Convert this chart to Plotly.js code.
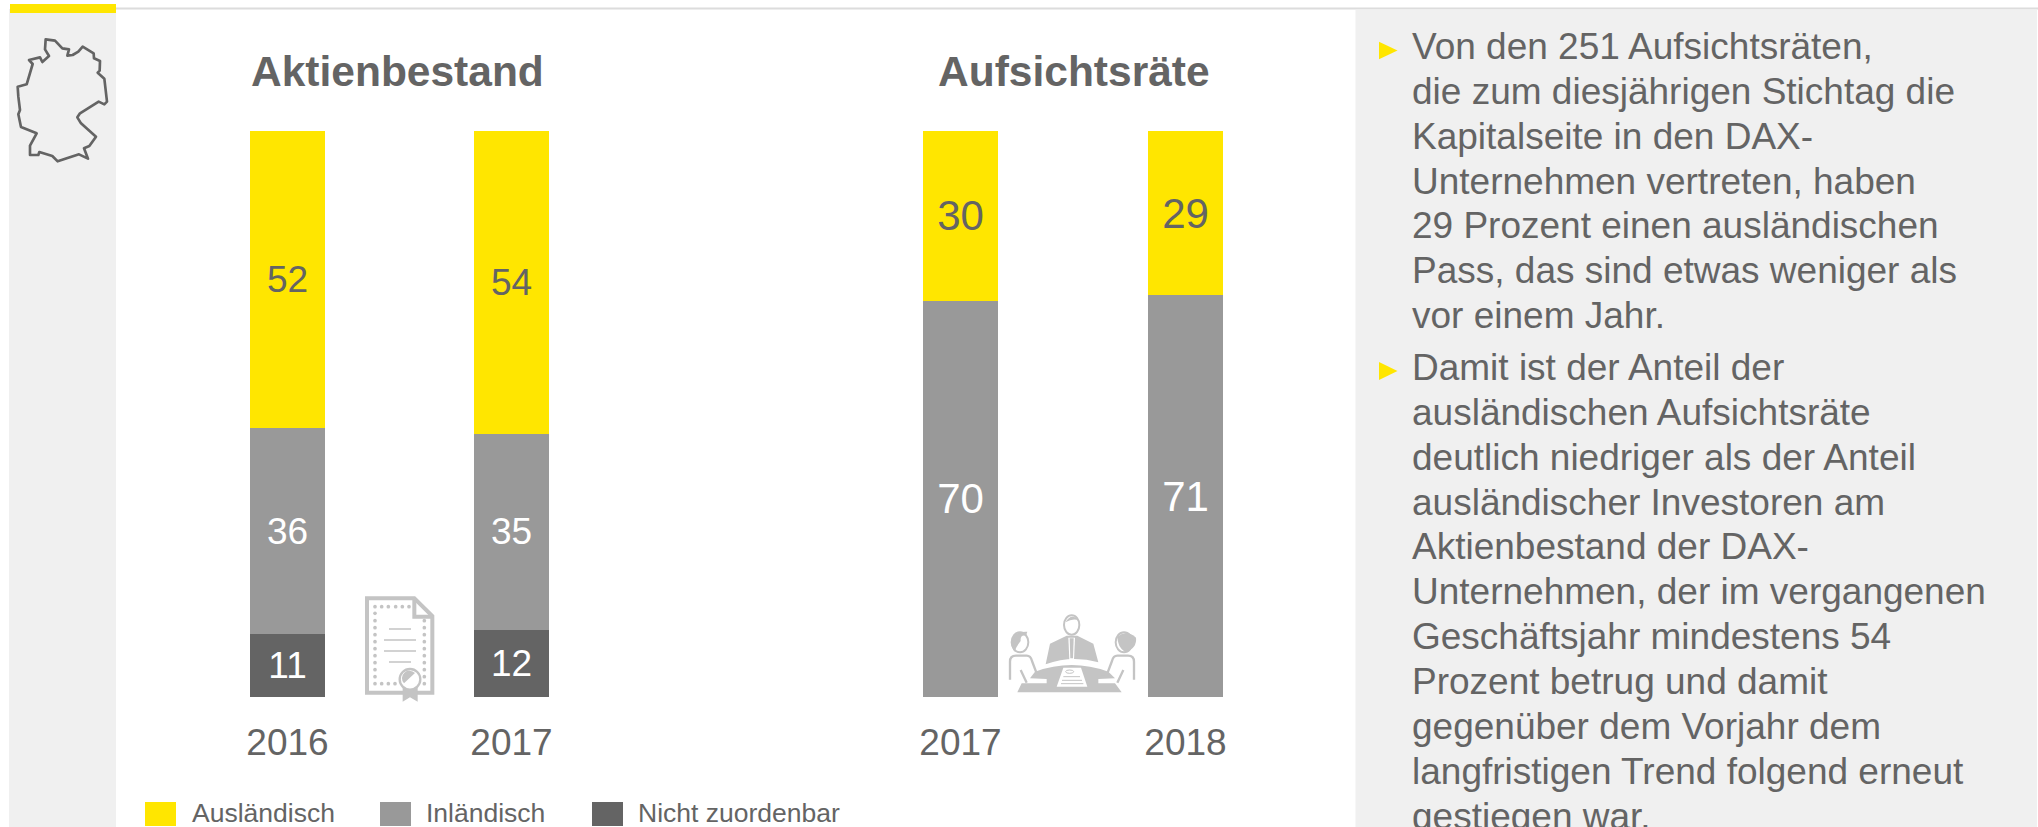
<!DOCTYPE html>
<html lang="de">
<head>
<meta charset="utf-8">
<title>Aktienbestand und Aufsichtsräte</title>
<script src="https://cdn.plot.ly/plotly-3.0.1.min.js"></script>
<style>html,body{margin:0;padding:0;background:#fff;overflow:hidden}#chart{width:2038px;height:827px}</style>
</head>
<body>
<div id="chart"></div>
<script>
// ---- data ----
const yearsAktien = ['2016', '2017'];
const aktienNichtZuordenbar = [11, 12];
const aktienInlaendisch = [36, 35];
const aktienAuslaendisch = [52, 54];

const yearsRaete = ['2017', '2018'];
const raeteInlaendisch = [70, 71];
const raeteAuslaendisch = [30, 29];

const legendLabels = ['Ausländisch', 'Inländisch', 'Nicht zuordenbar'];
const chartTitles = ['Aktienbestand', 'Aufsichtsräte'];

const bulletOne = [
  'Von den 251 Aufsichtsräten,',
  'die zum diesjährigen Stichtag die',
  'Kapitalseite in den DAX-',
  'Unternehmen vertreten, haben',
  '29 Prozent einen ausländischen',
  'Pass, das sind etwas weniger als',
  'vor einem Jahr.'
];
const bulletTwo = [
  'Damit ist der Anteil der',
  'ausländischen Aufsichtsräte',
  'deutlich niedriger als der Anteil',
  'ausländischer Investoren am',
  'Aktienbestand der DAX-',
  'Unternehmen, der im vergangenen',
  'Geschäftsjahr mindestens 54',
  'Prozent betrug und damit',
  'gegenüber dem Vorjahr dem',
  'langfristigen Trend folgend erneut',
  'gestiegen war.'
];

// ---- style ----
const W = 2038, H = 827;
const YELLOW = '#FFE600', GRAY = '#999999', DARK = '#646464', TEXT = '#646464', PANEL = '#F0F0F0', ICON = '#C4C4C4';
const FONT = '"Liberation Sans", Arial, sans-serif';
const px = x => x / W;
const py = y => 1 - y / H;

function bar(name, x, y, color, labelColor, xa, size) {
  return {
    type: 'bar', name, x, y, text: y.map(String), xaxis: xa, yaxis: xa === 'x' ? 'y' : 'y2',
    marker: {color, line: {width: 0}},
    textposition: 'inside', insidetextanchor: 'middle', textangle: 0, constraintext: 'none',
    insidetextfont: {family: FONT, size, color: labelColor},
    hoverinfo: 'name+y+x', showlegend: false
  };
}

const traces = [
  bar(legendLabels[2], yearsAktien, aktienNichtZuordenbar, DARK, '#FFFFFF', 'x', 37),
  bar(legendLabels[1], yearsAktien, aktienInlaendisch, GRAY, '#FFFFFF', 'x', 37),
  bar(legendLabels[0], yearsAktien, aktienAuslaendisch, YELLOW, TEXT, 'x', 37),
  bar(legendLabels[1], yearsRaete, raeteInlaendisch, GRAY, '#FFFFFF', 'x2', 42),
  bar(legendLabels[0], yearsRaete, raeteAuslaendisch, YELLOW, TEXT, 'x2', 42)
];

function label(x, baseline, text, size, extra) {
  return Object.assign({
    xref: 'paper', yref: 'paper', x: px(x), y: py(baseline + size * 0.212 + 1),
    xanchor: 'left', yanchor: 'bottom', text, showarrow: false, borderpad: 0,
    font: {family: FONT, size, color: TEXT}
  }, extra || {});
}

const annotations = [
  label(397.5, 85.5, chartTitles[0], 42.5, {xanchor: 'center', text: '<b>' + chartTitles[0] + '</b>'}),
  label(1074, 85.5, chartTitles[1], 42.5, {xanchor: 'center', text: '<b>' + chartTitles[1] + '</b>'}),
  label(190.5, 822.5, legendLabels[0], 26.5),
  label(425, 822.5, legendLabels[1], 26.5),
  label(636.5, 822.5, legendLabels[2], 26.5)
];
bulletOne.forEach((t, i) => annotations.push(label(1411, 59 + i * 44.9, t, 37)));
bulletTwo.forEach((t, i) => annotations.push(label(1411, 380 + i * 44.9, t, 37)));

function rect(x0, y0, x1, y1, color) {
  return {type: 'rect', xref: 'paper', yref: 'paper', x0: px(x0), x1: px(x1), y0: py(y1), y1: py(y0),
    fillcolor: color, line: {width: 0}, layer: 'below'};
}
function tri(y0, y1) {
  const m = (y0 + y1) / 2;
  return {type: 'path', xref: 'paper', yref: 'paper', fillcolor: YELLOW, line: {width: 0}, layer: 'below',
    path: `M${px(1379)},${py(y0)}L${px(1397.5)},${py(m)}L${px(1379)},${py(y1)}Z`};
}
const shapes = [
  rect(116, 7.5, W, 9.5, '#DCDCDC'),
  rect(9, 9, 116, H, PANEL),
  rect(1355.5, 9.5, 2037, H, PANEL),
  rect(10, 4, 116, 13, YELLOW),
  tri(41.7, 59.3),
  tri(362, 380),
  rect(145, 802, 176, 826, YELLOW),
  rect(380, 802, 411, 826, GRAY),
  rect(592, 802, 623, 826, DARK)
];

// ---- decorative icons ----
const germanyPts = '137,118 165,122 187,145 207,148 202,167 218,165 235,155 248,140 281,160 282,175 300,183 299,212 293,218 313,236 321,305 313,313 296,305 240,340 232,352 243,370 288,410 268,438 252,445 264,476 237,463 173,484 157,468 118,456 115,465 90,465 90,437 110,400 63,381 55,343 60,330 55,290 53,260 80,253 98,192 87,180 120,172 127,186 147,168 135,148';
const germanySvg = `<svg xmlns="http://www.w3.org/2000/svg" viewBox="0 0 348 600"><polygon points="${germanyPts}" fill="none" stroke="#646464" stroke-width="8" stroke-linejoin="round"/></svg>`;

function dots(list) { return list.map(p => `<circle cx="${p[0]}" cy="${p[1]}" r="5.5"/>`).join(''); }
const certDots = [];
[60, 80, 100, 122, 142, 162].forEach(x => certDots.push([x, 50]));
[70, 92, 113, 134, 155, 176, 197, 218, 239, 260].forEach(y => certDots.push([60, y]));
[60, 80, 100, 120].forEach(x => certDots.push([x, 281]));
[92, 113, 134, 155, 176, 197, 218, 239, 260, 281].forEach(y => certDots.push([208, y]));
const certSvg = `<svg xmlns="http://www.w3.org/2000/svg" viewBox="0 0 270 360"><g fill="none" stroke="${ICON}" stroke-linejoin="miter">
<path d="M36,25H178L232,78V308H36Z" stroke-width="12" fill="#fff"/>
<path d="M178,25V80H232" stroke-width="12"/>
<path d="M102,117H168M87,150H183M87,183H183M102,216H168" stroke-width="5"/></g>
<g fill="${ICON}">${dots(certDots)}
<path d="M143,290H188V335L165,322L143,335Z"/>
<circle cx="165" cy="268" r="31" fill="#fff" stroke="${ICON}" stroke-width="7"/>
<path d="M147,280A22,22 0 0 1 180,249Z"/></g></svg>`;

const boardSvg = `<svg xmlns="http://www.w3.org/2000/svg" viewBox="0 0 435 300">
<g fill="${ICON}" stroke="none">
<path d="M137,178L150,116L200,92L232,92L280,116L295,172Q215,150 137,178Z"/>
<path d="M105,200Q215,160 325,200L345,220L295,222V235H345L365,262H52L65,235H140V222L90,220Z"/>
<path d="M196,52Q215,20 238,48Q222,38 196,52Z"/>
<path d="M34,110Q38,78 82,80L78,92Q60,88 62,108Q50,122 44,140Q34,128 34,110Z"/>
<path d="M352,95Q380,72 408,98Q412,128 376,142Q352,125 352,95Z"/>
</g>
<g fill="#fff" stroke="${ICON}" stroke-width="6">
<ellipse cx="215" cy="60" rx="23" ry="29" fill="none"/>
<ellipse cx="60" cy="112" rx="25" ry="30" fill="none"/>
<ellipse cx="372" cy="112" rx="25" ry="30" fill="none"/>
</g>
<g fill="none" stroke="${ICON}" stroke-width="7" stroke-linejoin="round">
<path d="M30,224V170Q30,152 48,152H80Q92,152 96,168L110,205L140,212"/>
<path d="M62,195L80,233"/>
<path d="M402,224V170Q402,152 384,152H352Q340,152 336,168L322,205L295,212"/>
<path d="M370,195L352,233"/>
</g>
<path d="M205,98H225L222,165H208Z" fill="#fff"/>
<path d="M209,100H221L219,160H211Z" fill="${ICON}"/>
<path d="M190,188H243L262,245H170Z" fill="#fff"/>
<ellipse cx="209" cy="200" rx="12" ry="5" fill="none" stroke="${ICON}" stroke-width="3"/>
<path d="M190,215H240M186,226H246M183,236H250" stroke="${ICON}" stroke-width="3"/>
</svg>`;

function img(svg, x, y, w, h) {
  return {source: 'data:image/svg+xml;charset=utf-8,' + encodeURIComponent(svg), xref: 'paper', yref: 'paper',
    x: px(x), y: py(y), sizex: w / W, sizey: h / H, xanchor: 'left', yanchor: 'top', sizing: 'stretch', layer: 'above'};
}
const images = [
  img(germanySvg, 0, 0, 116, 200),
  img(certSvg, 355, 590, 90, 120),
  img(boardSvg, 1000, 605, 145, 100)
];

function xAxis(x0, x1, anchor) {
  return {domain: [px(x0), px(x1)], anchor, type: 'category', range: [-0.5, 1.5], fixedrange: true,
    showline: false, showgrid: false, zeroline: false, ticks: '', ticklabelstandoff: 20,
    tickfont: {family: FONT, size: 37, color: TEXT}};
}
function yAxis(anchor) {
  return {domain: [py(697), py(131)], anchor, range: [0, 100], visible: false, fixedrange: true};
}

const layout = {
  width: W, height: H, margin: {l: 0, r: 0, t: 0, b: 0, pad: 0},
  paper_bgcolor: '#FFFFFF', plot_bgcolor: 'rgba(0,0,0,0)',
  barmode: 'stack', barnorm: 'percent', bargap: 1 - 75 / 224,
  showlegend: false, hovermode: 'closest',
  xaxis: xAxis(175.5, 623.5, 'y'), yaxis: yAxis('x'),
  xaxis2: xAxis(848, 1298, 'y2'), yaxis2: yAxis('x2'),
  shapes, annotations, images
};

Plotly.newPlot('chart', traces, layout, {displayModeBar: false, responsive: false});
</script>
</body>
</html>
